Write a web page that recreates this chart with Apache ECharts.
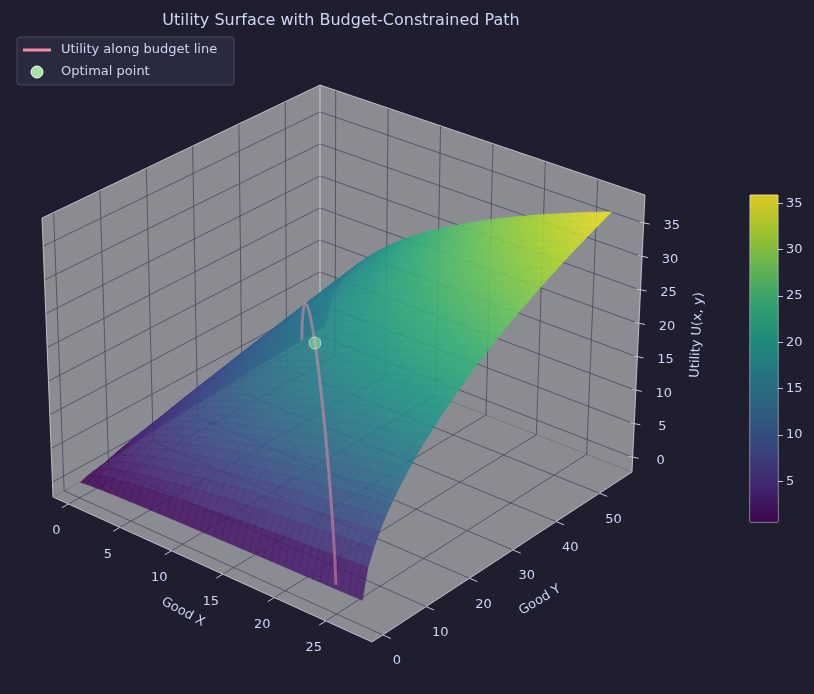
<!DOCTYPE html>
<html>
<head>
<meta charset="utf-8">
<title>Utility Surface</title>
<script src="https://cdn.jsdelivr.net/npm/echarts@6/dist/echarts.min.js"></script>
<style>html,body{margin:0;background:#1e1e2e}#main{width:814px;height:694px}</style>
</head>
<body>
<div id="main"></div>
<script>
// data
var xGrid = [], yGrid = [];
for (var i = 0; i <= 40; i++) { xGrid.push(0.1 + 27.4 * i / 40); yGrid.push(0.1 + 54.9 * i / 40); }
var xTicks = [0, 5, 10, 15, 20, 25];
var yTicks = [0, 10, 20, 30, 40, 50];
var zTicks = [0, 5, 10, 15, 20, 25, 30, 35];
var cbTicks = [5, 10, 15, 20, 25, 30, 35];
var budgetX = [], budgetY = [];
for (var k = 0; k <= 60; k++) { budgetX.push(0.1 + 24.8 * k / 60); budgetY.push(50 - 2 * budgetX[k]); }
var optimal = [10.8, 28.4];
function utility(x, y) { return Math.pow(x, 0.42) * Math.pow(Math.max(y, 0.1), 0.55); }

var XR = [-1.5, 29.5], YR = [-2.5, 57.5], ZR = [-2.2, 39.2];
var viridis = ['#440154','#482878','#3e4989','#31688e','#26828e','#1f9e89','#35b779','#6ece58','#b5de2b','#fde725'];
var UMIN = utility(0.1, 0.1), UMAX = utility(27.5, 55);

function hex(c){return [parseInt(c.substr(1,2),16),parseInt(c.substr(3,2),16),parseInt(c.substr(5,2),16)];}
function cmap(t){
  t = Math.max(0, Math.min(1, t)) * (viridis.length - 1);
  var i = Math.min(Math.floor(t), viridis.length - 2), f = t - i;
  var a = hex(viridis[i]), b = hex(viridis[i+1]);
  return 'rgb(' + [0,1,2].map(function(j){return Math.round(a[j] + (b[j]-a[j])*f);}).join(',') + ')';
}

// projection corners (bottom / top) of the 3D box
var B = {c00:[53,497], c10:[372,642], c01:[320,350], c11:[632,472]};
var T = {c00:[42,218], c10:[367,328], c01:[320,85], c11:[645,195]};
function bil(s, u, v, j){ return (1-u)*(1-v)*s.c00[j] + u*(1-v)*s.c10[j] + (1-u)*v*s.c01[j] + u*v*s.c11[j]; }
function projUVW(u, v, w){
  return [bil(B,u,v,0)*(1-w) + bil(T,u,v,0)*w, bil(B,u,v,1)*(1-w) + bil(T,u,v,1)*w];
}
function nu(x){return (x-XR[0])/(XR[1]-XR[0]);}
function nv(y){return (y-YR[0])/(YR[1]-YR[0]);}
function nw(z){return (z-ZR[0])/(ZR[1]-ZR[0]);}
function P(x, y, z){ return projUVW(nu(x), nv(y), nw(z)); }

var txt = '#cdd6f4', gridC = 'rgba(70,70,95,0.8)', edgeC = '#c8c8dc';

function renderScene(params, api){
  var ch = [];
  function poly(pts, style){ ch.push({type:'polygon', shape:{points:pts}, style:style, silent:true}); }
  function line(a, b, stroke, w){ ch.push({type:'line', shape:{x1:a[0],y1:a[1],x2:b[0],y2:b[1]}, style:{stroke:stroke, lineWidth:w||1}, silent:true}); }
  function text(p, s, opt){ ch.push({type:'text', x:p[0], y:p[1], rotation:opt.rot||0, style:{text:s, fill:txt, font:(opt.size||12)+'px DejaVu Sans', align:opt.align||'center', verticalAlign:'middle'}, silent:true}); }
  var paneStyle = {fill:'#8b8b92', stroke:null};
  // panes: floor, x=min wall, y=max wall
  poly([projUVW(0,0,0),projUVW(1,0,0),projUVW(1,1,0),projUVW(0,1,0)], paneStyle);
  poly([projUVW(0,0,0),projUVW(0,1,0),projUVW(0,1,1),projUVW(0,0,1)], paneStyle);
  poly([projUVW(0,1,0),projUVW(1,1,0),projUVW(1,1,1),projUVW(0,1,1)], paneStyle);
  // grid lines
  xTicks.forEach(function(t){ var u=nu(t);
    line(projUVW(u,0,0), projUVW(u,1,0), gridC); line(projUVW(u,1,0), projUVW(u,1,1), gridC); });
  yTicks.forEach(function(t){ var v=nv(t);
    line(projUVW(0,v,0), projUVW(1,v,0), gridC); line(projUVW(0,v,0), projUVW(0,v,1), gridC); });
  zTicks.forEach(function(t){ var w=nw(t);
    line(projUVW(0,0,w), projUVW(0,1,w), gridC); line(projUVW(0,1,w), projUVW(1,1,w), gridC); });
  // box edges
  var E = [[0,0,1,0,1,1],[0,1,1,1,1,1],[0,0,0,0,0,1],[0,1,0,0,1,1],[1,1,0,1,1,1],[0,0,0,1,0,0],[1,0,0,1,1,0]];
  E.forEach(function(e){ line(projUVW(e[0],e[1],e[2]), projUVW(e[3],e[4],e[5]), 'rgba(220,220,235,0.75)', 1); });
  // surface cells, far to near
  var cells = [];
  for (var i = 0; i < xGrid.length-1; i++) for (var j = 0; j < yGrid.length-1; j++) {
    var x0=xGrid[i], x1=xGrid[i+1], y0=yGrid[j], y1=yGrid[j+1];
    var z = [utility(x0,y0),utility(x1,y0),utility(x1,y1),utility(x0,y1)];
    var zm = (z[0]+z[1]+z[2]+z[3])/4;
    cells.push({d: nu((x0+x1)/2) - nv((y0+y1)/2), pts:[P(x0,y0,z[0]),P(x1,y0,z[1]),P(x1,y1,z[2]),P(x0,y1,z[3])], c:cmap((zm-UMIN)/(UMAX-UMIN))});
  }
  cells.sort(function(a,b){return a.d-b.d;});
  cells.forEach(function(c){ poly(c.pts, {fill:c.c, stroke:c.c, lineWidth:0.5, opacity:0.82}); });
  // budget path
  var bp = budgetX.map(function(x,k){ return P(x, budgetY[k], utility(x, budgetY[k])); });
  ch.push({type:'polyline', shape:{points:bp}, style:{stroke:'#f38ba8', lineWidth:3, fill:null, opacity:0.5}, silent:true});
  var op = P(optimal[0], optimal[1], utility(optimal[0], optimal[1]));
  ch.push({type:'circle', shape:{cx:op[0], cy:op[1], r:6}, style:{fill:'#a6e3a1', stroke:'#ffffff', lineWidth:1, opacity:0.5}, silent:true});
  // ticks and labels
  xTicks.forEach(function(t){ var p=projUVW(nu(t),0,0), q=projUVW(nu(t),-0.025,0);
    line(p, q, edgeC); text([p[0]-12,p[1]+27], String(t), {size:13}); });
  yTicks.forEach(function(t){ var p=projUVW(1,nv(t),0), q=projUVW(1.025,nv(t),0);
    line(p, q, edgeC); text([p[0]+14,p[1]+26], String(t), {size:13}); });
  zTicks.forEach(function(t){ var p=projUVW(1,1,nw(t));
    line([p[0]-4,p[1]-1], [p[0]+6,p[1]+1], edgeC); text([p[0]+28,p[1]+3], String(t), {size:13}); });
  text([183,612], 'Good X', {rot:-0.5, size:13});
  text([540,600], 'Good Y', {rot:0.55, size:13});
  text([697,335], 'Utility U(x, y)', {rot:1.52, size:13});
  return {type:'group', children:ch};
}

var chart = echarts.init(document.getElementById('main'));
chart.setOption({
  backgroundColor:'#1e1e2e',
  animation:false,
  title:{text:'Utility Surface with Budget-Constrained Path', left:336, top:8, textAlign:'center',
    textStyle:{color:txt, fontSize:16, fontWeight:'normal', fontFamily:'DejaVu Sans'}},
  grid:{left:750, top:195, width:28, height:327, show:true, borderColor:'#c8c8dc', borderWidth:1},
  xAxis:{type:'category', data:['u'], show:false},
  yAxis:{type:'value', position:'right', min:0.6, max:35.9,
    axisLine:{show:false}, splitLine:{show:false},
    axisLabel:{color:txt, fontSize:13, fontFamily:'DejaVu Sans', customValues:cbTicks},
    axisTick:{show:true, customValues:cbTicks, lineStyle:{color:'#c8c8dc'}}},
  graphic:[
    {type:'rect', shape:{x:17,y:37,width:217,height:48,r:3}, style:{fill:'#2a2a3e', stroke:'#4a4a60'}},
    {type:'line', shape:{x1:23,y1:50,x2:51,y2:50}, style:{stroke:'#f38ba8', lineWidth:3}},
    {type:'text', x:61, y:50, style:{text:'Utility along budget line', fill:txt, font:'13px DejaVu Sans', verticalAlign:'middle'}},
    {type:'circle', shape:{cx:37, cy:72, r:6}, style:{fill:'#a6e3a1', stroke:'#ffffff', lineWidth:1}},
    {type:'text', x:61, y:72, style:{text:'Optimal point', fill:txt, font:'13px DejaVu Sans', verticalAlign:'middle'}}
  ],
  series:[
    {type:'custom', coordinateSystem:'none', data:[0], renderItem:renderScene, silent:true},
    {type:'bar', data:[35.9], barWidth:'100%', silent:true,
      itemStyle:{opacity:0.85, color:new echarts.graphic.LinearGradient(0,0,0,1,
        viridis.slice().reverse().map(function(c,i){return {offset:i/(viridis.length-1), color:c};}))}}
  ]
});
</script>
</body>
</html>
